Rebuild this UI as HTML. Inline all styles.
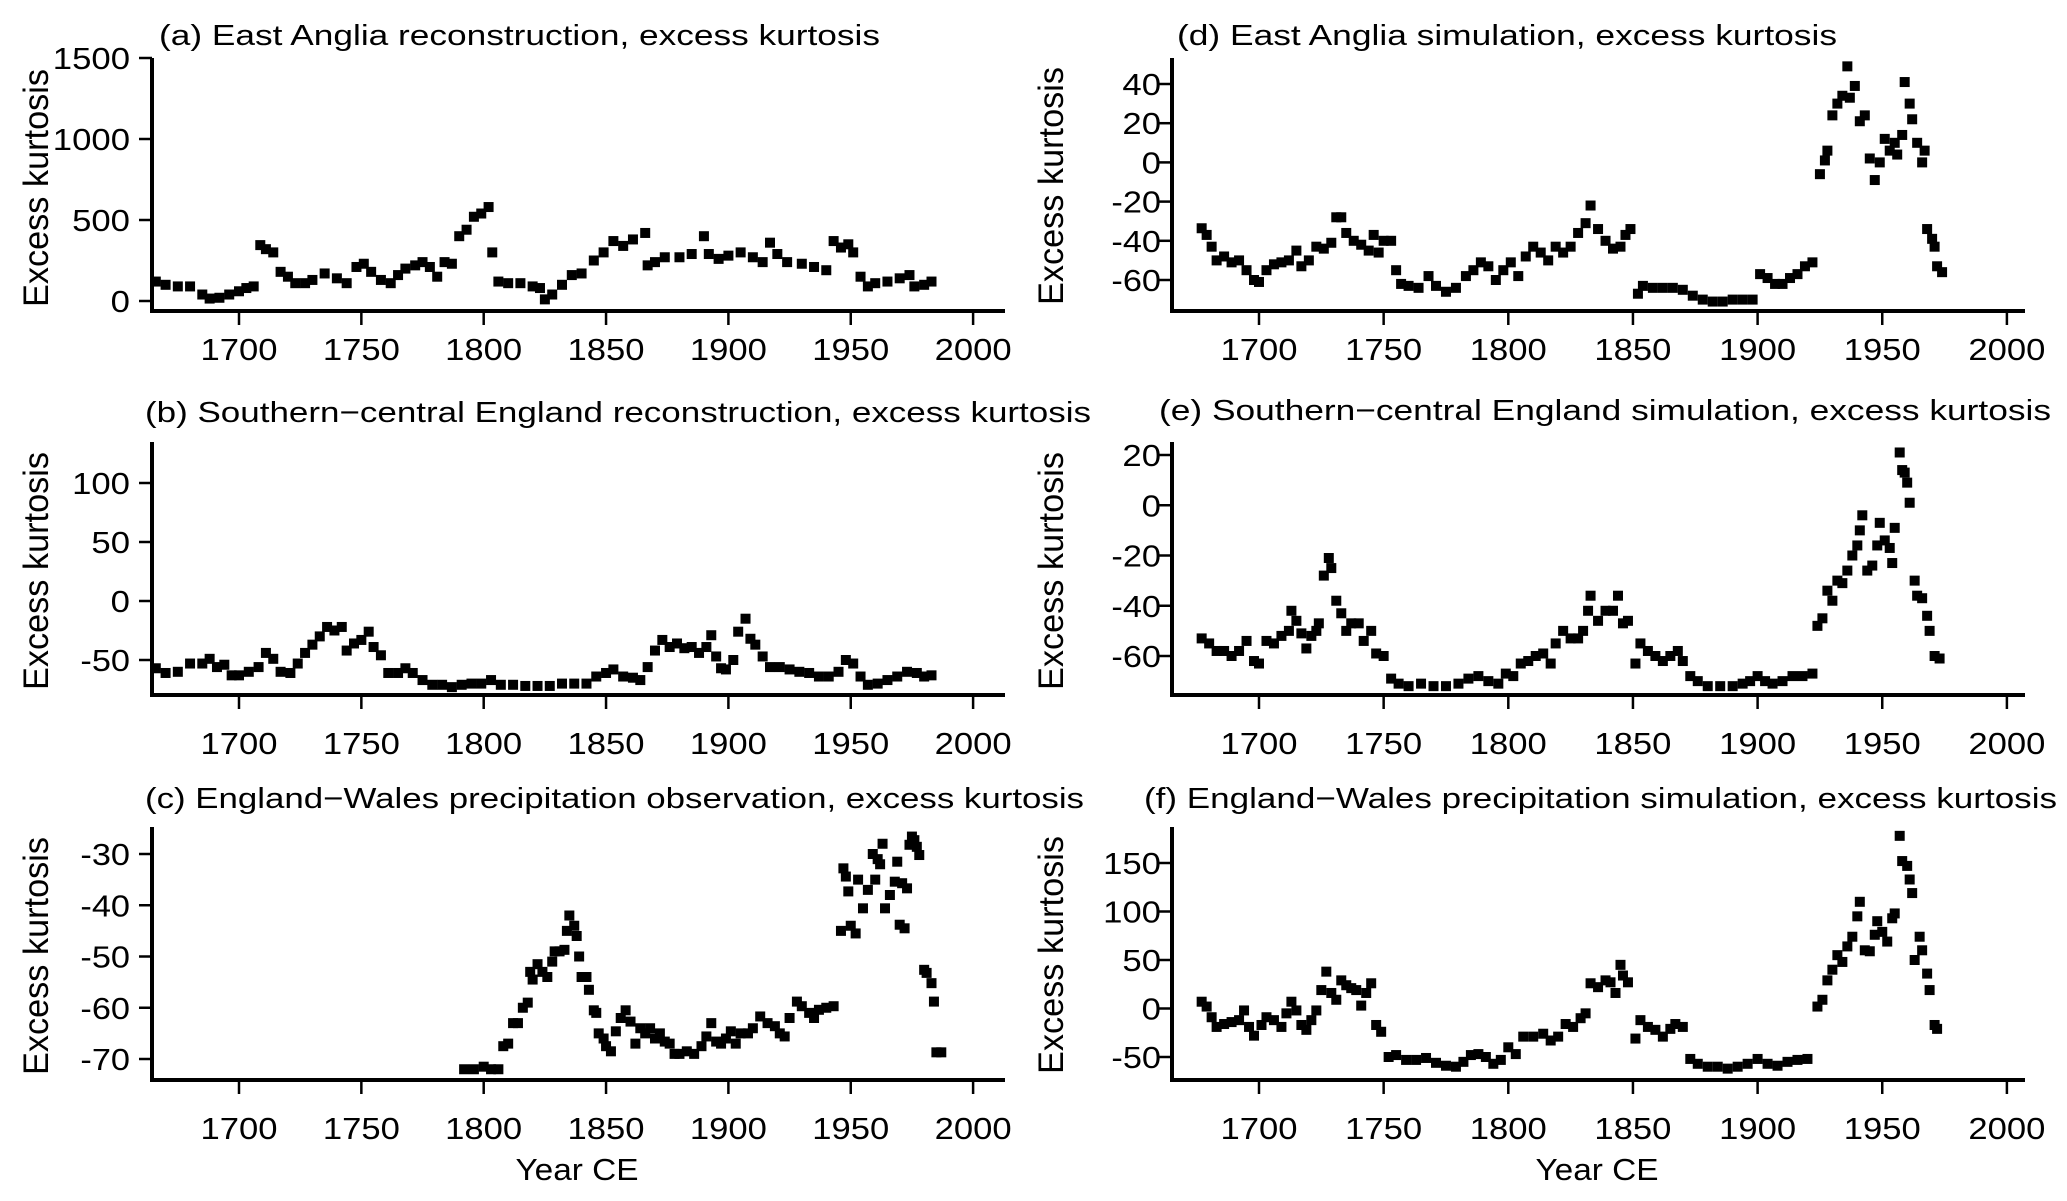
<!DOCTYPE html>
<html><head><meta charset="utf-8"><style>
html,body{margin:0;padding:0;background:#fff;}
svg{display:block;font-family:"Liberation Sans",sans-serif;}
</style></head><body>
<svg id="fig" width="2067" height="1201" viewBox="0 0 2067 1201" xmlns="http://www.w3.org/2000/svg"></svg>
<script>
// ---- data (year arrays + value arrays per panel) ----
const yearsA=[1666,1670,1675,1680,1685,1688,1692,1696,1700,1703,1706,1708.7,1711,1714,1717,1720,1723,1727,1730,1735,1740,1744,1748,1751,1754,1758,1762,1765,1768,1772,1775,1778,1781,1784,1787,1790,1793,1796,1799,1802,1803.5,1806,1810,1815,1820,1823,1825,1828,1832,1836,1840,1845,1849,1853,1857,1861,1866,1867,1870,1874,1880,1885,1890,1892,1896,1900,1905,1910,1914,1917,1920,1924,1930,1935,1940,1943,1946,1949,1951,1954,1957,1960,1965,1970,1974,1976,1980,1983];
const valsA=[120,100,90,90,40,15,20,40,60,80,90,345,320,300,180,150,110,110,130,170,140,110,210,230,180,130,110,160,200,220,240,210,150,240,230,400,440,520,540,580,300,120,110,110,90,80,10,40,100,160,170,250,300,370,340,380,420,220,240,270,270,290,400,290,260,280,300,270,240,360,290,240,230,210,190,370,330,350,300,150,90,110,120,140,160,90,100,120];

const yearsB=[1666,1670,1675,1680,1685,1688,1691,1694,1697,1700,1704,1708,1711,1714,1717,1721,1724,1727,1730,1733,1736,1739,1742,1744,1747,1750,1753,1755,1758,1761,1765,1768,1771,1775,1779,1783,1787,1791,1795,1799,1803,1807,1812,1817,1822,1827,1832,1837,1842,1846,1850,1853,1857,1861,1864,1867,1870,1873,1876,1879,1882,1885,1888,1891,1893,1895,1897,1899,1902,1904,1907,1909,1911,1914,1917,1921,1925,1929,1933,1937,1941,1945,1948,1951,1954,1957,1961,1965,1969,1973,1977,1980,1983];
const valsB=[-57,-61,-60,-53,-53,-49,-56,-54,-63,-63,-60,-56,-44,-49,-60,-61,-53,-44,-37,-30,-22,-25,-22,-42,-36,-33,-26,-39,-46,-61,-61,-57,-61,-67,-71,-71,-73,-71,-70,-70,-67,-71,-71,-72,-72,-72,-70,-70,-70,-64,-61,-58,-64,-65,-67,-56,-42,-33,-39,-36,-40,-39,-44,-39,-29,-47,-57,-58,-50,-26,-15,-32,-37,-47,-56,-56,-58,-60,-61,-64,-64,-60,-50,-53,-64,-71,-70,-67,-64,-60,-61,-64,-63];

const yearsC=[1792,1796,1800,1803,1806,1808,1810,1812,1814,1816,1818,1819,1820,1822,1824,1826,1828,1829,1831,1833,1834,1835,1837,1838,1839,1840,1842,1843,1845,1846,1847,1849,1850,1852,1854,1856,1858,1860,1862,1864,1866,1868,1870,1872,1874,1876,1878,1880,1883,1886,1889,1891,1893,1895,1897,1899,1901,1903,1905,1908,1910,1913,1916,1919,1921,1923,1925,1928,1930,1933,1935,1937,1940,1943,1946,1947,1948,1949,1950,1952,1953,1955,1957,1959,1960,1961,1962,1963,1964,1966,1968,1969,1970,1971,1972,1973,1974,1975,1976,1977,1978,1980,1981,1983,1984,1985,1987];
const valsC=[-72,-72,-71.5,-72,-72,-67.5,-67,-63,-63,-60,-59,-53,-54.5,-51.5,-53,-54,-51,-49,-49,-48.7,-45,-42,-44,-46,-50,-54,-54,-56.5,-60.5,-61,-65,-66,-67.5,-68.5,-64.6,-62,-60.5,-62.7,-67,-64,-65,-64,-66,-65,-66.6,-67,-69,-69,-68.5,-69,-67.5,-65.6,-63,-66.6,-67,-66,-64.6,-67,-65,-65,-64,-61.7,-63,-63.6,-65,-65.6,-62,-58.8,-59.7,-61,-62,-60.4,-60,-59.7,-45,-32.8,-34.4,-37.3,-44,-45.5,-35,-40.6,-37,-30,-35,-31,-32,-28,-40.6,-38,-35.4,-31.5,-43.8,-35.7,-44.5,-36.7,-28.2,-26.6,-27.3,-28.6,-30.2,-52.6,-53.2,-55.2,-58.8,-68.7,-68.7];

const yearsD=[1677,1679,1681,1683,1686,1689,1692,1695,1698,1700,1703,1706,1709,1712,1715,1717,1720,1723,1726,1729,1731,1733,1735,1738,1741,1744,1746,1748,1750,1753,1755,1757,1760,1764,1768,1771,1775,1779,1783,1786,1789,1792,1795,1798,1801,1804,1807,1810,1813,1816,1819,1822,1825,1828,1831,1833,1836,1839,1842,1845,1847,1849,1852,1854,1858,1862,1866,1870,1874,1878,1882,1886,1890,1894,1898,1901,1904,1907,1910,1913,1916,1919,1922,1925,1927,1928,1930,1932,1934,1936,1937,1939,1941,1943,1945,1947,1949,1951,1953,1955,1956,1958,1959,1961,1962,1964,1966,1967,1968,1970,1971,1972,1974];
const valsD=[-33.6,-37,-43,-50,-48,-51,-50,-55,-60,-61,-55,-52,-51,-50,-45,-53,-50,-43,-44,-41,-28,-28,-36,-40,-42,-45,-37,-46,-40,-40,-55,-62,-63,-64,-58,-63,-66,-64,-58,-55,-51,-53,-60,-55,-51,-58,-48,-43,-46,-50,-43,-46,-43,-36,-31,-22,-34,-40,-44,-43,-37,-34,-67,-63,-64,-64,-64,-65,-68,-70,-71,-71,-70,-70,-70,-57,-59,-62,-62,-59,-57,-53,-51,-6,1,6,24,30,34,49,33,39,21,24,2,-9,0,12,6,10,4,14,41,30,22,10,0,6,-34,-39,-43,-53,-56];

const yearsE=[1677,1680,1683,1686,1689,1692,1695,1698,1700,1703,1706,1709,1712,1713,1715,1717,1719,1721,1723,1724,1726,1728,1729,1731,1733,1735,1737,1740,1742,1745,1747,1750,1753,1756,1760,1765,1770,1775,1780,1784,1788,1792,1796,1799,1802,1805,1808,1811,1814,1817,1819,1822,1825,1828,1830,1832,1833,1836,1839,1842,1844,1846,1848,1851,1853,1856,1859,1862,1865,1868,1870,1873,1876,1880,1885,1890,1894,1897,1900,1903,1906,1910,1914,1918,1922,1924,1926,1928,1930,1932,1934,1936,1938,1940,1941,1942,1944,1946,1948,1949,1951,1953,1954,1955,1957,1958,1959,1960,1961,1963,1964,1966,1968,1969,1971,1973];
const valsE=[-53,-55,-58,-58,-60,-58,-54,-62,-63,-54,-55,-52,-50,-42,-46,-51,-57,-52,-50,-47,-28,-21,-25,-38,-43,-50,-47,-47,-54,-50,-59,-60,-69,-71,-72,-71,-72,-72,-71,-69,-68,-70,-71,-67,-68,-63,-62,-60,-59,-63,-55,-50,-53,-53,-50,-42,-36,-46,-42,-42,-36,-47,-46,-63,-55,-58,-60,-62,-60,-58,-62,-68,-70,-72,-72,-72,-71,-70,-68,-70,-71,-70,-68,-68,-67,-48,-45,-34,-38,-30,-31,-26,-20,-16,-10,-4,-26,-24,-16,-7,-14,-17,-23,-9,21,14,13,9,1,-30,-36,-37,-44,-50,-60,-61];

const yearsF=[1677,1679,1681,1683,1686,1689,1692,1694,1696,1698,1701,1703,1706,1709,1711,1713,1715,1717,1719,1721,1723,1725,1727,1729,1731,1733,1735,1737,1739,1741,1743,1745,1747,1749,1752,1755,1759,1763,1767,1771,1775,1779,1782,1785,1788,1791,1794,1797,1800,1803,1806,1810,1814,1817,1820,1823,1826,1829,1831,1833,1836,1839,1841,1843,1845,1846,1848,1851,1853,1856,1859,1862,1865,1867,1870,1873,1876,1880,1884,1888,1892,1896,1900,1904,1908,1912,1916,1920,1924,1926,1928,1930,1932,1934,1936,1938,1940,1941,1943,1945,1947,1948,1950,1952,1954,1955,1957,1958,1960,1961,1962,1963,1965,1966,1968,1969,1971,1972];
const valsF=[7,2,-9,-19,-16,-14,-12,-2,-19,-28,-17,-9,-12,-19,-5,7,-2,-17,-22,-12,-2,19,38,16,9,29,24,21,19,3,16,26,-17,-24,-50,-48,-53,-53,-51,-56,-59,-60,-55,-48,-47,-50,-57,-53,-40,-47,-29,-29,-26,-33,-29,-16,-19,-10,-5,26,22,29,27,16,45,34,27,-31,-12,-19,-22,-29,-21,-16,-19,-52,-57,-60,-60,-62,-60,-57,-52,-57,-59,-55,-53,-52,2,9,29,40,55,48,64,74,95,110,60,59,76,90,79,69,93,98,178,152,147,133,119,50,74,60,36,19,-17,-21];

const ticksA=[0,500,1000,1500];
const ticksB=[-50,0,50,100];
const ticksC=[-70,-60,-50,-40,-30];
const ticksD=[-60,-40,-20,0,20,40];
const ticksE=[-60,-40,-20,0,20];
const ticksF=[-50,0,50,100,150];
const xTicks=[1700,1750,1800,1850,1900,1950,2000];

// ---- layout ----
const NS="http://www.w3.org/2000/svg";
const svg=document.getElementById('fig');
function mk(tag,attrs,parent){const e=document.createElementNS(NS,tag);for(const k in attrs)e.setAttribute(k,attrs[k]);(parent||svg).appendChild(e);return e;}
function tw(s){let w=0;for(const c of s)w+=(c==='-'?11:19.3);return w;}

const cols=[
 {ax:152,end:1005,x0:239,ppy:2.447,labR:130,ylabX:48},
 {ax:1172,end:2025,x0:1259,ppy:2.493,labR:1161,ylabX:1063}
];
const panels=[
 {id:'a',col:0,years:yearsA,vals:valsA,ticks:ticksA,v1:0,p1:301,v2:1500,p2:58,top:58,xa:311,tb:360,title:'(a) East Anglia reconstruction, excess kurtosis',tx:159,tw:721,ty:45,yc:188},
 {id:'b',col:0,years:yearsB,vals:valsB,ticks:ticksB,v1:-50,p1:660,v2:100,p2:483,top:442,xa:695,tb:754,title:'(b) Southern\u2212central England reconstruction, excess kurtosis',tx:145,tw:946,ty:422,yc:571},
 {id:'c',col:0,years:yearsC,vals:valsC,ticks:ticksC,v1:-70,p1:1059,v2:-30,p2:854,top:827,xa:1080,tb:1139,title:'(c) England\u2212Wales precipitation observation, excess kurtosis',tx:145,tw:939,ty:808,yc:956,xlab:true},
 {id:'d',col:1,years:yearsD,vals:valsD,ticks:ticksD,v1:-60,p1:280,v2:40,p2:84,top:58,xa:311,tb:360,title:'(d) East Anglia simulation, excess kurtosis',tx:1177,tw:660,ty:45,yc:186},
 {id:'e',col:1,years:yearsE,vals:valsE,ticks:ticksE,v1:-60,p1:656,v2:20,p2:455,top:442,xa:695,tb:754,title:'(e) Southern\u2212central England simulation, excess kurtosis',tx:1159,tw:892,ty:420,yc:571},
 {id:'f',col:1,years:yearsF,vals:valsF,ticks:ticksF,v1:-50,p1:1057,v2:150,p2:863,top:827,xa:1080,tb:1139,title:'(f) England\u2212Wales precipitation simulation, excess kurtosis',tx:1144,tw:913,ty:808,yc:955,xlab:true}
];

panels.forEach(p=>{
  const c=cols[p.col];
  const g=mk('g',{});
  
  
  const X=y=>c.x0+(y-1700)*c.ppy;
  const Y=v=>p.p1+(v-p.v1)*(p.p2-p.p1)/(p.v2-p.v1);
  const t=mk('text',{x:p.tx,y:p.ty,'font-size':29,textLength:p.tw,lengthAdjust:'spacingAndGlyphs',fill:'#000'},g);
  t.textContent=p.title;
  
  
  const ya=mk('line',{x1:c.ax,y1:p.top,x2:c.ax,y2:p.xa+2,stroke:'#000','stroke-width':4},g);
  
  
  const xa=mk('line',{x1:c.ax-2,y1:p.xa,x2:c.end,y2:p.xa,stroke:'#000','stroke-width':4},g);
  
  
  p.ticks.forEach(v=>{
    const yy=Y(v);
    const tk=mk('line',{x1:c.ax-13,y1:yy,x2:c.ax,y2:yy,stroke:'#000','stroke-width':2.5},g);
    
    
    const s=String(v);
    const l=mk('text',{x:c.labR,y:yy+11,'font-size':31,'text-anchor':'end',textLength:tw(s),lengthAdjust:'spacingAndGlyphs'},g);
    l.textContent=s;
    
    
  });
  xTicks.forEach(yr=>{
    const xx=X(yr);
    const tk=mk('line',{x1:xx,y1:p.xa,x2:xx,y2:p.xa+14,stroke:'#000','stroke-width':2.5},g);
    
    
    const l=mk('text',{x:xx,y:p.tb,'font-size':31,'text-anchor':'middle',textLength:77,lengthAdjust:'spacingAndGlyphs'},g);
    l.textContent=String(yr);
    
    
  });
  const yl=mk('text',{x:0,y:0,'font-size':35,'text-anchor':'middle',textLength:238,lengthAdjust:'spacingAndGlyphs',transform:`translate(${c.ylabX},${p.yc}) rotate(-90)`},g);
  yl.textContent='Excess kurtosis';
  
  
  if(p.xlab){
    const xl=mk('text',{x:p.col===0?577:1597,y:1180,'font-size':31,'text-anchor':'middle',textLength:123,lengthAdjust:'spacingAndGlyphs'},g);
    xl.textContent='Year CE';
    
    
  }
  p.years.forEach((yr,i)=>{
    const r=mk('rect',{x:X(yr)-5,y:Y(p.vals[i])-5,width:10,height:10,fill:'#000'},g);
    
    
  });
});
</script>
</body></html>
